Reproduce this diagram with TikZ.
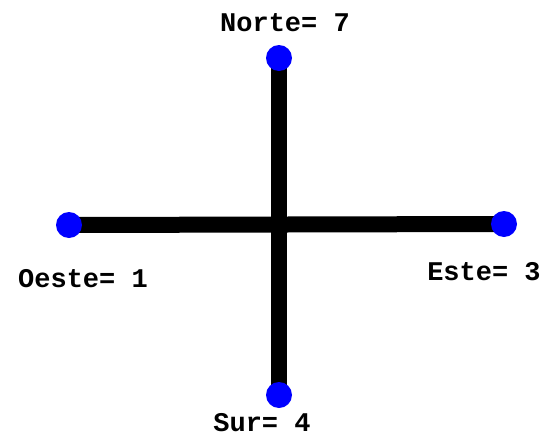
\documentclass[tikz,border=0pt]{standalone}
\usepackage{fontspec}
\newfontfamily\pixfont{Liberation Mono}
\usetikzlibrary{backgrounds}
\definecolor{dotblue}{RGB}{0,0,255}
\begin{document}
\begin{tikzpicture}[x=1pt, y=-1pt,
    every node/.style={font=\pixfont\bfseries\fontsize{27}{27}\selectfont},
    dot/.style={circle, fill=dotblue, inner sep=0pt, minimum size=26pt},
    arm/.style={line width=16pt},
  ]
  \useasboundingbox (0,0) rectangle (550,437);
  % end points
  \node[dot] (N) at (279,58)  {};
  \node[dot] (S) at (279,395) {};
  \node[dot] (W) at (69,225)  {};
  \node[dot] (E) at (504,224) {};
  % cross
  \begin{scope}[on background layer]
    \draw[arm] (W.center) -- (E.center);
    \draw[arm] (N.center) -- (S.center);
  \end{scope}
  % labels
  \node (lN) at (285,23)  {Norte= 7};
  \node (lW) at (83,279)  {Oeste= 1};
  \node (lE) at (484,272) {Este= 3};
  \node[inner sep=1pt] (lS) at (262,423) {Sur= 4};
\end{tikzpicture}
\end{document}
